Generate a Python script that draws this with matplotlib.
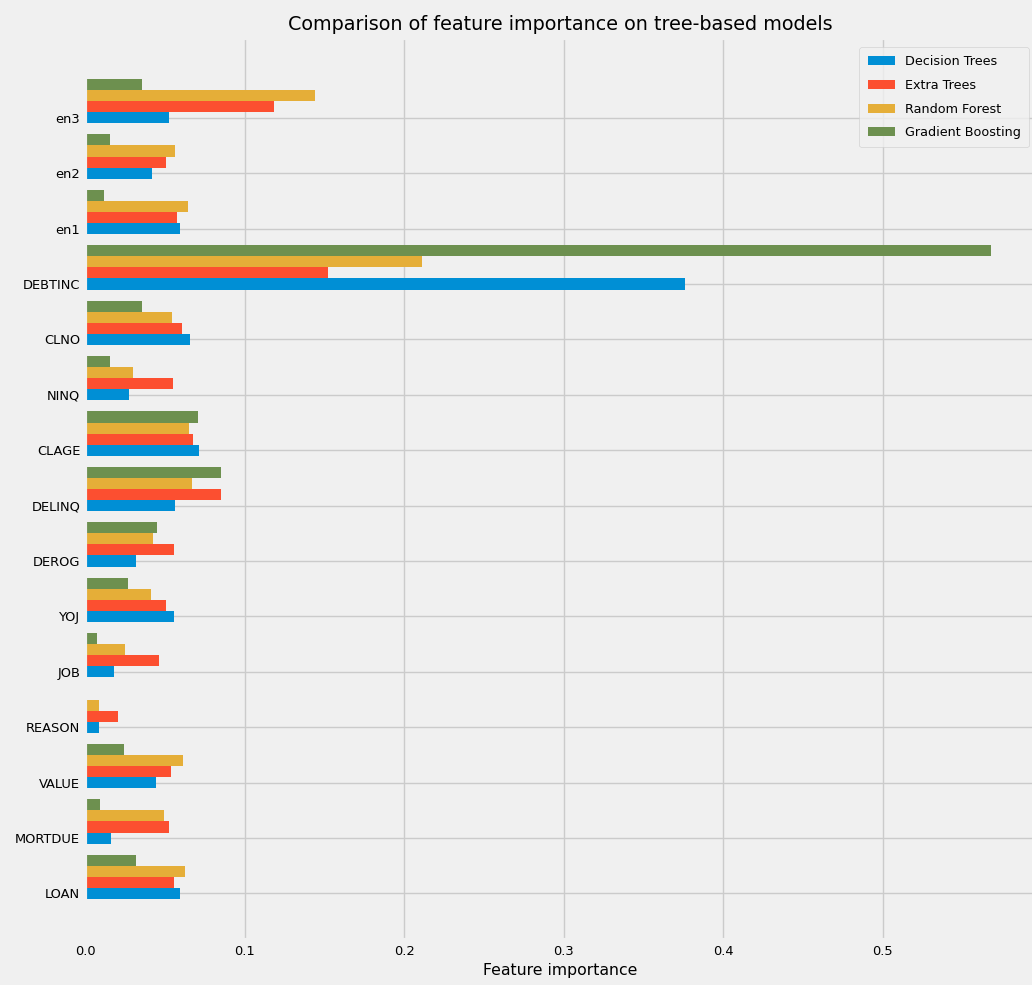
import numpy as np
import matplotlib
matplotlib.use("Agg")
import matplotlib.pyplot as plt

plt.style.use("fivethirtyeight")

features = ["LOAN", "MORTDUE", "VALUE", "REASON", "JOB", "YOJ", "DEROG", "DELINQ",
            "CLAGE", "NINQ", "CLNO", "DEBTINC", "en1", "en2", "en3"]
decision_trees = [0.0596, 0.0161, 0.0447, 0.0088, 0.0184, 0.0560, 0.0322, 0.0566,
                  0.0715, 0.0274, 0.0656, 0.3759, 0.0596, 0.0422, 0.0525]
extra_trees = [0.0560, 0.0525, 0.0537, 0.0209, 0.0464, 0.0506, 0.0560, 0.0853,
               0.0679, 0.0554, 0.0608, 0.1523, 0.0577, 0.0510, 0.1187]
random_forest = [0.0625, 0.0495, 0.0614, 0.0088, 0.0251, 0.0416, 0.0428, 0.0673,
                 0.0654, 0.0299, 0.0547, 0.2114, 0.0644, 0.0566, 0.1442]
gradient_boosting = [0.0322, 0.0094, 0.0245, 0.0006, 0.0077, 0.0268, 0.0453, 0.0853,
                     0.0708, 0.0155, 0.0357, 0.5677, 0.0119, 0.0155, 0.0357]
series_names = ["Decision Trees", "Extra Trees", "Random Forest", "Gradient Boosting"]
series = [decision_trees, extra_trees, random_forest, gradient_boosting]

W, H = 1032, 985
fig = plt.figure(figsize=(W / 100, H / 100), dpi=100)
ax = fig.add_axes([85 / W, 1 - 940 / H, (1036 - 85) / W, (940 - 38) / H])

y = np.arange(len(features))
w = 0.2
for i, (name, vals) in enumerate(zip(series_names, series)):
    ax.barh(y + i * w, vals, height=w, label=name)

ax.set_yticks(y)
ax.set_yticklabels(features, fontsize=9.4)
ax.tick_params(axis="x", labelsize=9.4)
ax.set_xticks([0.0, 0.1, 0.2, 0.3, 0.4, 0.5])
ax.set_xlabel("Feature importance", fontsize=11.3)
ax.set_title("Comparison of feature importance on tree-based models", fontsize=13.8)
ax.legend(loc="upper right", fontsize=9.2, labelspacing=0.83, borderpad=0.65,
          borderaxespad=0, handlelength=2.1,
          bbox_to_anchor=((1029 - 85) / 951, (940 - 47) / 902))

fig.savefig("out.png", dpi=100, facecolor=fig.get_facecolor())
